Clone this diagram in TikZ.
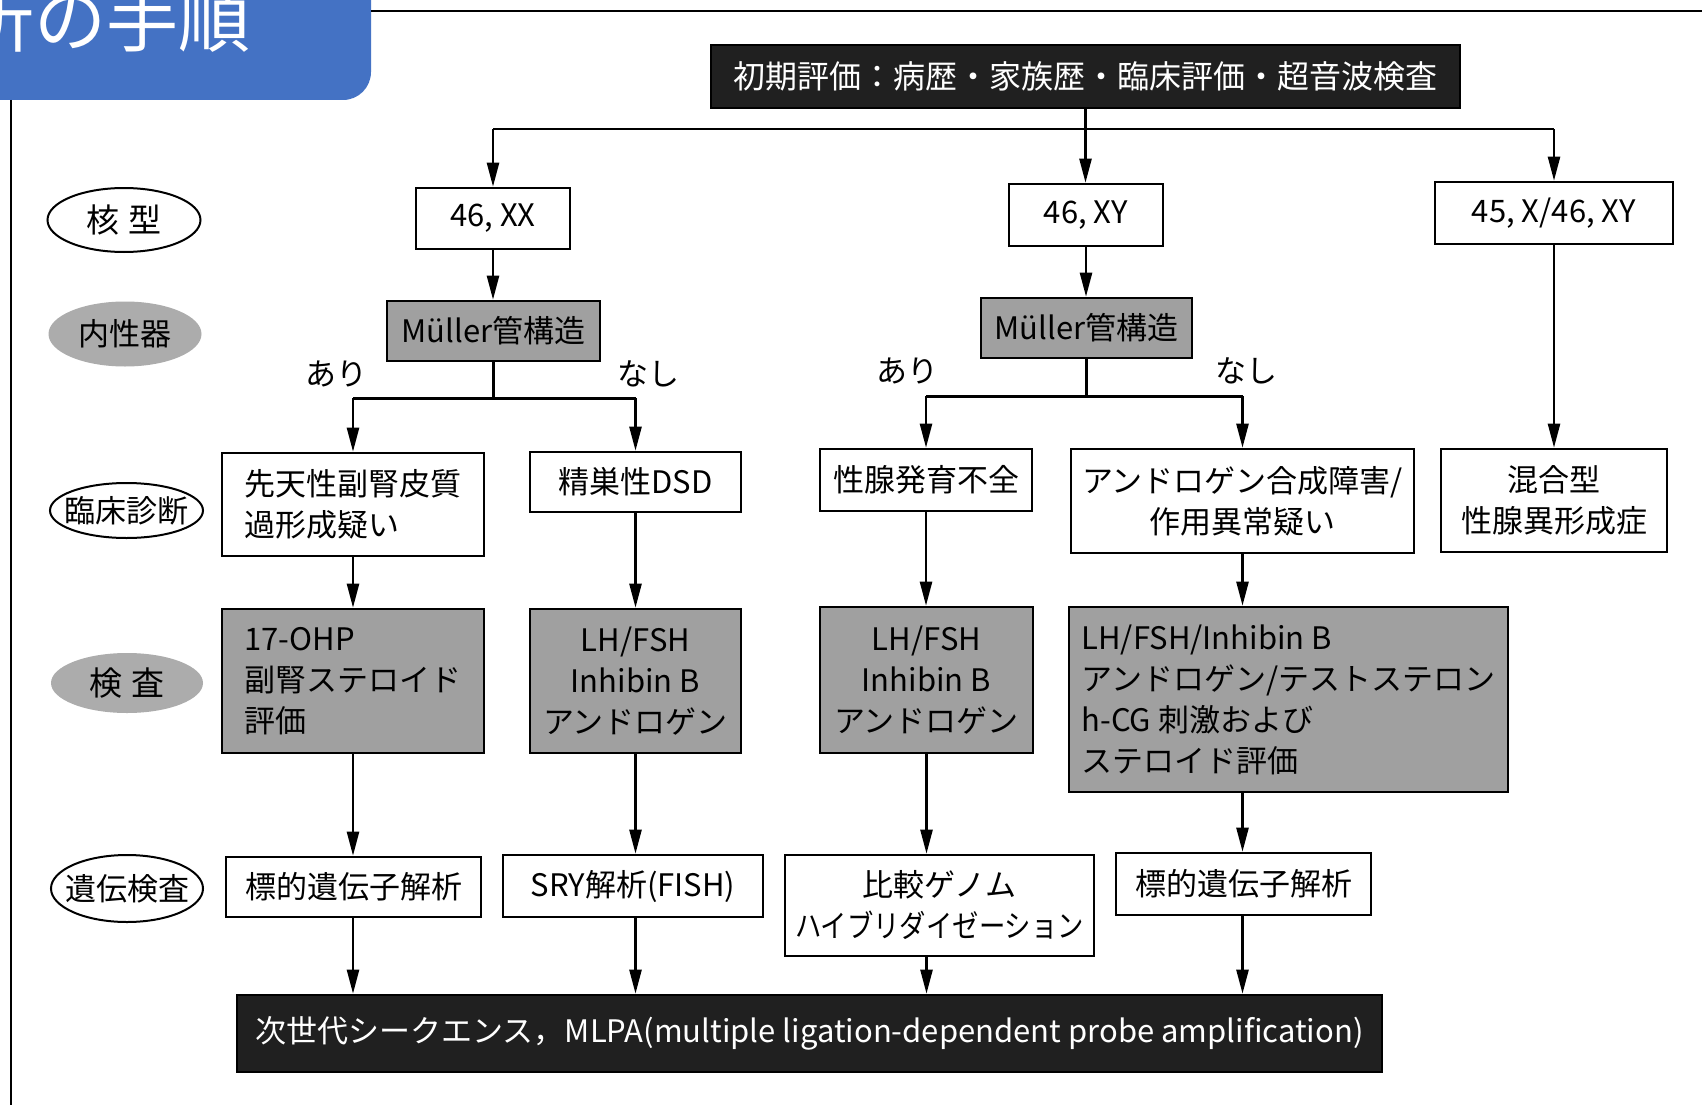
\documentclass[tikz,border=0pt]{standalone}
\usepackage{fontspec}
\usepackage{graphicx}
\setmainfont{Noto Sans CJK JP}
\usetikzlibrary{shapes.geometric,arrows.meta}
\definecolor{tabblue}{RGB}{68,114,196}
\definecolor{boxgray}{RGB}{160,160,160}
\definecolor{ellgray}{RGB}{172,172,172}
\definecolor{boxblack}{RGB}{32,32,32}
\begin{document}
\begin{tikzpicture}[x=1pt,y=-1pt,
  txt/.style={font=\fontsize{31}{41}\selectfont},
  wbox/.style={draw, line width=2.6pt, fill=white, inner sep=0pt, txt, align=center},
  gbox/.style={wbox, fill=boxgray},
  kbox/.style={draw=black, line width=2.6pt, fill=boxblack, text=white, inner sep=0pt, txt, align=center},
  sz/.style 2 args={minimum width=#1, minimum height=#2},
  lab/.style={ellipse, inner sep=0pt, txt},
  wlab/.style={lab, draw, line width=2pt, fill=white},
  glab/.style={lab, fill=ellgray},
  conn/.style={line width=2.4pt},
  arr/.style={conn, -{Triangle[length=24pt,width=12pt]}},
]
\useasboundingbox (0,0) rectangle (1702,1105);
\fill[white] (0,0) rectangle (1702,1105);
% header tab and frame
\fill[tabblue, rounded corners=28pt] (-40,-40) rectangle (371,100);
\node[anchor=base west, text=white, inner sep=0pt, font=\fontsize{72}{72}\selectfont] (title) at (-38,47) {析の手順};
\draw[line width=2pt] (371,11) -- (1702,11);
\draw[line width=2pt] (11,100) -- (11,1105);

% row labels
\node[wlab, sz={153}{64}] (e1) at (124,220) {\makebox[0pt]{\fontsize{33}{33}\selectfont 核\hspace{9pt}型}};
\node[glab, sz={153}{65}] (e2) at (125,334) {\makebox[0pt]{内性器}};
\node[wlab, sz={153}{55}] (e3) at (126.5,510.5) {\makebox[0pt]{臨床診断}};
\node[glab, sz={152}{60}] (e4) at (127,683) {\makebox[0pt]{\fontsize{33}{33}\selectfont 検\hspace{9pt}査}};
\node[wlab, sz={152}{67}] (e5) at (127,888.5) {\makebox[0pt]{遺伝検査}};

% top
\node[kbox, sz={749}{63}, font=\fontsize{32}{40}\selectfont] (top) at (1085.5,76.5) {初期評価：病歴・家族歴・臨床評価・超音波検査};

% karyotype
\node[wbox, sz={154}{61}] (k1) at (493,218.5) {46, XX};
\node[wbox, sz={154}{62}] (k2) at (1086,215) {46, XY};
\node[wbox, sz={238}{62}] (k3) at (1554,213) {45, X/46, XY};

% Muller
\node[gbox, sz={213}{60}] (m1) at (493.5,331) {Müller管構造};
\node[gbox, sz={211}{60}] (m2) at (1086.5,328) {Müller管構造};

% branch labels
\node[txt, inner sep=0pt] (a1) at (336,374) {あり};
\node[txt, inner sep=0pt] (n1) at (648,374) {なし};
\node[txt, inner sep=0pt] (a2) at (907,371) {あり};
\node[txt, inner sep=0pt] (n2) at (1246,371) {なし};

% clinical diagnosis
\node[wbox, sz={262}{103}, align=left] (c1) at (353,504.5) {先天性副腎皮質\\過形成疑い};
\node[wbox, sz={211}{60}] (c2) at (635.5,482) {精巣性DSD};
\node[wbox, sz={212}{62}] (c3) at (926,480) {性腺発育不全};
\node[wbox, sz={343}{104}] (c4) at (1242.5,501) {アンドロゲン合成障害/\\作用異常疑い};
\node[wbox, sz={226}{103}] (c5) at (1554,500.5) {混合型\\性腺異形成症};

% tests
\node[gbox, sz={262}{144}, align=left] (t1) at (353,681) {17-OHP\\副腎ステロイド\\評価};
\node[gbox, sz={211}{144}] (t2) at (635.5,681) {LH/FSH\\Inhibin B\\アンドロゲン};
\node[gbox, sz={213}{146}] (t3) at (926.5,680) {LH/FSH\\Inhibin B\\アンドロゲン};
\node[gbox, sz={439}{185}, align=left] (t4) at (1288.5,699.5) {LH/FSH/Inhibin B\\アンドロゲン/テストステロン\\h-CG 刺激および\\ステロイド評価};

% genetic tests
\node[wbox, sz={255}{60}] (g1) at (353.5,887) {標的遺伝子解析};
\node[wbox, sz={260}{62}] (g2) at (633,886) {SRY解析(FISH)};
\node[wbox, sz={309}{101}] (g3) at (939.5,905.5) {比較ゲノム\\\scalebox{0.85}[1]{ハイブリダイゼーション}};
\node[wbox, sz={255}{62}] (g4) at (1243.5,884) {標的遺伝子解析};

% bottom
\node[kbox, sz={1145}{77}] (bot) at (809.5,1033.5) {次世代シークエンス，MLPA(multiple ligation-dependent probe amplification)};

% connectors
\path (top.south) ++(0,20) coordinate (s1);
\draw[arr] (top.south) -- (top.south |- k2.north);
\draw[conn] (k1.north |- s1) -- (k3.north |- s1);
\draw[arr] (k1.north |- s1) -- (k1.north);
\draw[arr] (k3.north |- s1) -- (k3.north);
\draw[arr] (k1.south) -- (k1.south |- m1.north);
\draw[arr] (k2.south) -- (k2.south |- m2.north);

\path (m1.south) ++(0,36) coordinate (b1);
\draw[conn] (m1.south) -- (b1);
\draw[conn] (c1.north |- b1) -- (c2.north |- b1);
\draw[arr] (c1.north |- b1) -- (c1.north);
\draw[arr] (c2.north |- b1) -- (c2.north);

\path (m2.south) ++(0,37) coordinate (b2);
\draw[conn] (m2.south) -- (b2);
\draw[conn] (c3.north |- b2) -- (c4.north |- b2);
\draw[arr] (c3.north |- b2) -- (c3.north);
\draw[arr] (c4.north |- b2) -- (c4.north);

\draw[arr] (k3.south) -- (k3.south |- c5.north);

\draw[arr] (c1.south) -- (c1.south |- t1.north);
\draw[arr] (c2.south) -- (c2.south |- t2.north);
\draw[arr] (c3.south) -- (c3.south |- t3.north);
\draw[arr] (c4.south) -- (c4.south |- t4.north);

\draw[arr] (t1.south) -- (t1.south |- g1.north);
\draw[arr] (t2.south) -- (t2.south |- g2.north);
\draw[arr] (t3.south) -- (t3.south |- g3.north);
\draw[arr] (c4.south |- t4.south) -- (c4.south |- g4.north);

\draw[arr] (t1.south |- g1.south) -- (t1.south |- bot.north);
\draw[arr] (t2.south |- g2.south) -- (t2.south |- bot.north);
\draw[arr] (t3.south |- g3.south) -- (t3.south |- bot.north);
\draw[arr] (c4.south |- g4.south) -- (c4.south |- bot.north);
\end{tikzpicture}
\end{document}
